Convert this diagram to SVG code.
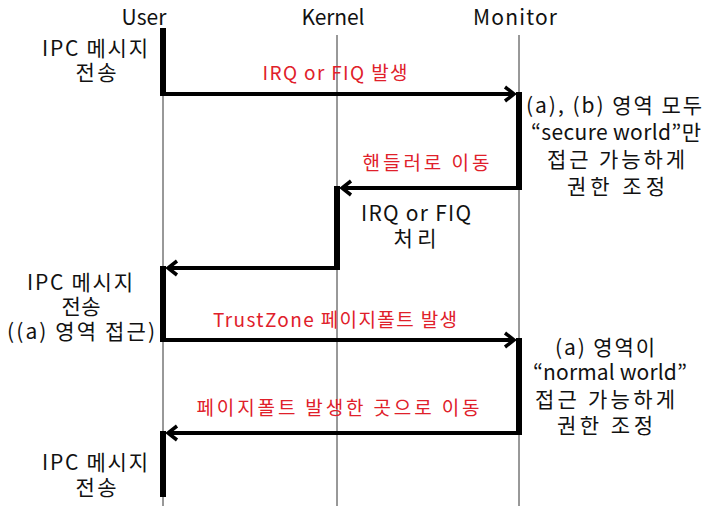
<svg xmlns="http://www.w3.org/2000/svg" width="705" height="506" viewBox="0 0 705 506">
<defs>
<style>
text{font-family:"Noto Sans CJK KR","Noto Sans",sans-serif;font-size:21px;fill:#111;text-anchor:middle}
.r{fill:#e0202a;font-size:19px}
.life{stroke:#333;stroke-width:1}
.bar{stroke:#000;stroke-width:6}
.msg{stroke:#000;stroke-width:4;fill:none}
</style>
<marker id="ah" markerWidth="14" markerHeight="18" refX="11" refY="9" orient="auto" markerUnits="userSpaceOnUse">
<path d="M2,2 L11,9 L2,16" fill="none" stroke="#000" stroke-width="3.5"/>
</marker>
</defs>
<g id="user"><text x="144" y="25" textLength="45">User</text><line class="life" x1="163" y1="28" x2="163" y2="506"/></g>
<g id="kernel"><text x="333" y="25" textLength="63">Kernel</text><line class="life" x1="337" y1="35" x2="337" y2="506"/></g>
<g id="monitor"><text x="515" y="25" textLength="84">Monitor</text><line class="life" x1="519" y1="35" x2="519" y2="506"/></g>
<g id="activations">
<line class="bar" x1="163" y1="28" x2="163" y2="96"/>
<line class="bar" x1="519" y1="92" x2="519" y2="190"/>
<line class="bar" x1="337" y1="186" x2="337" y2="270"/>
<line class="bar" x1="163" y1="266" x2="163" y2="342"/>
<line class="bar" x1="519" y1="338" x2="519" y2="435"/>
<line class="bar" x1="163" y1="431" x2="163" y2="497"/>
</g>
<g id="connectors">
<line class="msg" x1="163" y1="94" x2="514" y2="94" marker-end="url(#ah)"/>
<line class="msg" x1="519" y1="188" x2="342" y2="188" marker-end="url(#ah)"/>
<line class="msg" x1="337" y1="268" x2="168" y2="268" marker-end="url(#ah)"/>
<line class="msg" x1="163" y1="340" x2="514" y2="340" marker-end="url(#ah)"/>
<line class="msg" x1="519" y1="433" x2="168" y2="433" marker-end="url(#ah)"/>
</g>
<g id="labels">
<text><tspan x="95" y="56" textLength="106">IPC 메시지</tspan><tspan x="96" y="80" textLength="41">전송</tspan></text>
<text class="r" x="335" y="80" textLength="145">IRQ or FIQ 발생</text>
<text><tspan x="614" y="113" textLength="176">(a), (b) 영역 모두</tspan><tspan x="616" y="140" textLength="170">“secure world”만</tspan><tspan x="616" y="167" textLength="138">접근 가능하게</tspan><tspan x="616" y="194" textLength="98">권한 조정</tspan></text>
<text class="r" x="426" y="170" textLength="127">핸들러로 이동</text>
<text><tspan x="416" y="221" textLength="110">IRQ or FIQ</tspan><tspan x="415" y="246" textLength="43">처리</tspan></text>
<text><tspan x="80" y="290" textLength="106">IPC 메시지</tspan><tspan x="81" y="314" textLength="39">전송</tspan><tspan x="81" y="339" textLength="148">((a) 영역 접근)</tspan></text>
<text class="r" x="335" y="327" textLength="244">TrustZone 페이지폴트 발생</text>
<text><tspan x="605" y="355" textLength="100">(a) 영역이</tspan><tspan x="610" y="380" textLength="154">“normal world”</tspan><tspan x="605" y="407" textLength="140">접근 가능하게</tspan><tspan x="605" y="433" textLength="96">권한 조정</tspan></text>
<text class="r" x="338" y="415" textLength="283">페이지폴트 발생한 곳으로 이동</text>
<text><tspan x="95" y="470" textLength="106">IPC 메시지</tspan><tspan x="96" y="495" textLength="41">전송</tspan></text>
</g>
</svg>
